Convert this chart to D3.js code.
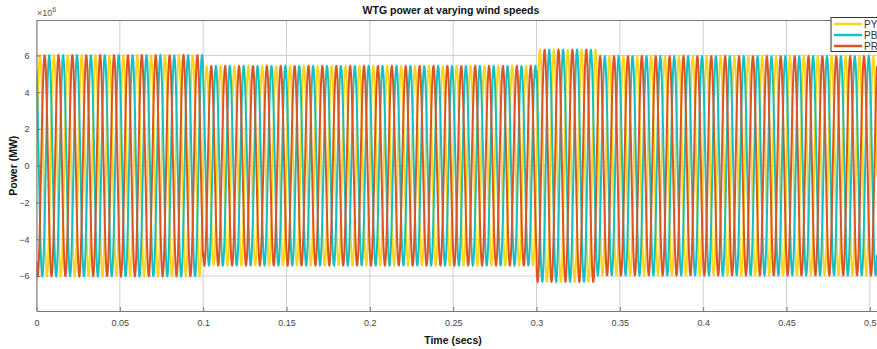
<!DOCTYPE html>
<html>
<head>
<meta charset="utf-8">
<script src="https://cdn.jsdelivr.net/npm/d3@7"></script>
<style>
  html, body { margin: 0; padding: 0; background: #fff; }
  svg { display: block; font-family: "Liberation Sans", Arial, sans-serif; }
</style>
</head>
<body>
<svg id="chart" width="877" height="349"></svg>
<script>
// wind-speed segments (secs) and the peak power seen in each one (x10^6)
const segStart = [0, 0.1, 0.3, 0.336];
const segEnd = [0.1, 0.3, 0.336, 0.51];
const segPeak = [6.0, 5.42, 6.3, 5.95];

// three phases
const phaseNames = ['PY', 'PB', 'PR'];
const phaseShiftDeg = [0, 120, -120];
const phaseColors = ['#FFD41A', '#14C0C4', '#DC5422'];
const freqHz = 120;
const sampleStep = 0.0001;

const xTicks = [0, 0.05, 0.1, 0.15, 0.2, 0.25, 0.3, 0.35, 0.4, 0.45, 0.5];
const yTicks = [-6, -4, -2, 0, 2, 4, 6];

const svg = d3.select('#chart');
const margin = { left: 36.5, top: 20.5, right: 877, bottom: 311 };

const x = d3.scaleLinear().domain([0, 0.5043]).range([margin.left, margin.right]);
const y = d3.scaleLinear().domain([-7.9, 7.9]).range([margin.bottom, margin.top]);

function peakAt(t) {
  for (let i = 0; i < segStart.length; i++) {
    if (t >= segStart[i] && t < segEnd[i]) return segPeak[i];
  }
  return segPeak[segPeak.length - 1];
}

const series = phaseNames.map((name, k) => {
  const pts = [];
  const shift = phaseShiftDeg[k] * Math.PI / 180;
  for (let t = 0; t <= 0.5043; t += sampleStep) {
    pts.push([t, peakAt(t) * Math.sin(2 * Math.PI * freqHz * t + shift)]);
  }
  return { name, color: phaseColors[k], pts };
});

// grid
const grid = svg.append('g').attr('class', 'grid');
grid.selectAll('line.gx').data(xTicks).enter().append('line')
  .attr('x1', (d) => x(d)).attr('x2', (d) => x(d))
  .attr('y1', margin.top).attr('y2', margin.bottom)
  .attr('stroke', '#cfcfcf').attr('stroke-width', 1);
grid.selectAll('line.gy').data(yTicks).enter().append('line')
  .attr('x1', margin.left).attr('x2', margin.right)
  .attr('y1', (d) => y(d)).attr('y2', (d) => y(d))
  .attr('stroke', '#cfcfcf').attr('stroke-width', 1);

// waveforms
svg.append('clipPath').attr('id', 'plotClip')
  .append('rect')
  .attr('x', margin.left).attr('y', margin.top)
  .attr('width', margin.right - margin.left).attr('height', margin.bottom - margin.top);

const line = d3.line().x((d) => x(d[0])).y((d) => y(d[1]));

svg.append('g').attr('clip-path', 'url(#plotClip)')
  .selectAll('path')
  .data(series)
  .enter().append('path')
  .attr('d', (d) => line(d.pts))
  .attr('fill', 'none')
  .attr('stroke', (d) => d.color)
  .attr('stroke-width', 2);

// axes
const xAxis = d3.axisBottom(x).tickValues(xTicks).tickFormat(d3.format('~g'))
  .tickSizeInner(-4).tickSizeOuter(0).tickPadding(9);
const yAxis = d3.axisLeft(y).tickValues(yTicks).tickFormat(d3.format('d'))
  .tickSizeInner(-4).tickSizeOuter(0).tickPadding(7);

const gx = svg.append('g').attr('transform', `translate(0,${margin.bottom})`).call(xAxis);
const gy = svg.append('g').attr('transform', `translate(${margin.left},0)`).call(yAxis);

[gx, gy].forEach((g) => {
  g.select('.domain').attr('stroke', '#777');
  g.selectAll('.tick line').attr('stroke', '#777');
  g.selectAll('.tick text').attr('fill', '#444').style('font-size', '9px');
});

// top border
svg.append('line')
  .attr('x1', margin.left).attr('x2', margin.right)
  .attr('y1', margin.top).attr('y2', margin.top)
  .attr('stroke', '#777');

// exponent label
const exp = svg.append('text').attr('x', 37).attr('y', 16)
  .attr('fill', '#555').style('font-size', '9px');
exp.append('tspan').text('\u00d710');
exp.append('tspan').attr('dy', -4).style('font-size', '7px').text('6');

// title and axis labels
svg.append('text').attr('x', 451).attr('y', 14)
  .attr('text-anchor', 'middle').style('font-size', '10.5px').style('font-weight', 'bold')
  .attr('fill', '#111').text('WTG power at varying wind speeds');

svg.append('text').attr('x', 453).attr('y', 344)
  .attr('text-anchor', 'middle').style('font-size', '10.5px').style('font-weight', 'bold')
  .attr('fill', '#111').text('Time (secs)');

svg.append('text')
  .attr('transform', `translate(17,${(margin.top + margin.bottom) / 2}) rotate(-90)`)
  .attr('text-anchor', 'middle').style('font-size', '10.5px').style('font-weight', 'bold')
  .attr('fill', '#111').text('Power (MW)');

// legend
const legend = svg.append('g').attr('transform', 'translate(831,17.5)');
legend.append('rect').attr('width', 60).attr('height', 34)
  .attr('fill', '#fff').attr('stroke', '#333').attr('stroke-width', 1);
const items = legend.selectAll('g.item').data(series).enter().append('g')
  .attr('transform', (d, i) => `translate(0,${6.5 + i * 11})`);
items.append('line').attr('x1', 3).attr('x2', 31)
  .attr('stroke', (d) => d.color).attr('stroke-width', 2.5);
items.append('text').attr('x', 33).attr('y', 3.5)
  .attr('fill', '#333').style('font-size', '10px').text((d) => d.name);
</script>
</body>
</html>
